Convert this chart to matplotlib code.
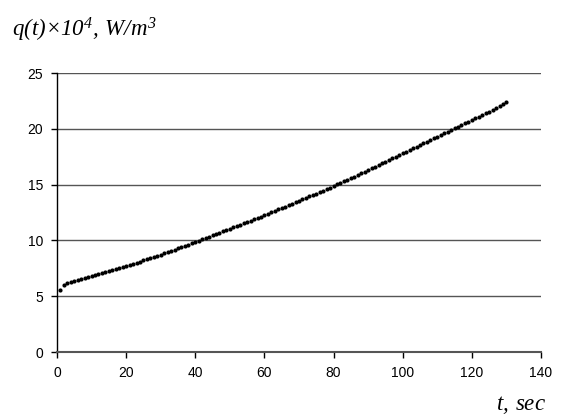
import matplotlib
matplotlib.use("Agg")
import matplotlib.pyplot as plt

t = list(range(1, 131))
q = [5.60, 6.02, 6.15, 6.27, 6.37, 6.46, 6.55, 6.63, 6.71, 6.79,
     6.88, 6.97, 7.06, 7.15, 7.24, 7.33, 7.42, 7.51, 7.60, 7.70,
     7.80, 7.90, 8.00, 8.10, 8.20, 8.30, 8.40, 8.51, 8.62, 8.73,
     8.84, 8.95, 9.06, 9.17, 9.28, 9.39, 9.50, 9.62, 9.74, 9.86,
     9.98, 10.10, 10.22, 10.34, 10.46, 10.58, 10.70, 10.82, 10.94, 11.06,
     11.18, 11.30, 11.42, 11.54, 11.66, 11.78, 11.90, 12.02, 12.14, 12.26,
     12.38, 12.51, 12.64, 12.77, 12.90, 13.03, 13.16, 13.29, 13.42, 13.55,
     13.68, 13.81, 13.94, 14.07, 14.20, 14.33, 14.46, 14.59, 14.73, 14.87,
     15.01, 15.15, 15.29, 15.43, 15.57, 15.71, 15.85, 16.00, 16.15, 16.30,
     16.45, 16.60, 16.75, 16.90, 17.05, 17.20, 17.35, 17.50, 17.65, 17.80,
     17.95, 18.10, 18.25, 18.40, 18.55, 18.70, 18.85, 19.00, 19.15, 19.30,
     19.45, 19.60, 19.75, 19.90, 20.05, 20.20, 20.35, 20.50, 20.65, 20.80,
     20.95, 21.10, 21.25, 21.40, 21.55, 21.70, 21.85, 22.00, 22.18, 22.36]

xticks = [0, 20, 40, 60, 80, 100, 120, 140]
yticks = [0, 5, 10, 15, 20, 25]

plt.rcParams['font.family'] = ['Liberation Sans', 'DejaVu Sans']
plt.rcParams['mathtext.fontset'] = 'custom'
plt.rcParams['mathtext.it'] = 'Liberation Serif:italic'
plt.rcParams['mathtext.rm'] = 'Liberation Serif:italic'
plt.rcParams['mathtext.bf'] = 'Liberation Serif:italic:bold'
plt.rcParams['mathtext.sf'] = 'Liberation Serif:italic'

fig = plt.figure(figsize=(5.75, 4.19), dpi=100)
ax = fig.add_axes([57/575, 1 - 352/419, 484/575, 279/419])

ax.plot(t, q, 'o', color='black', markersize=3.0, markeredgewidth=0, zorder=3)

ax.set_xlim(0, 140)
ax.set_ylim(0, 25)
ax.set_xticks(xticks)
ax.set_yticks(yticks)
ax.tick_params(direction='out', length=4, width=1, colors='black', labelsize=10, pad=6)
ax.yaxis.grid(True, color='#555555', linewidth=1)
ax.set_axisbelow(True)
for s in ['top', 'right']:
    ax.spines[s].set_visible(False)
ax.spines['left'].set_color('black')
ax.spines['bottom'].set_color('#555555')
ax.spines['left'].set_linewidth(1)
ax.spines['bottom'].set_linewidth(1.5)

fig.text(12/575, 1 - 36/419, '$q(t)\u00d710^4,\\:W/m^3$',
         fontsize=16.5, ha='left', va='baseline', color='black')
fig.text(546/575, 1 - 410/419, '$t,\\:sec$',
         fontsize=16.5, ha='right', va='baseline', color='black')

fig.savefig('out.png', dpi=100)
